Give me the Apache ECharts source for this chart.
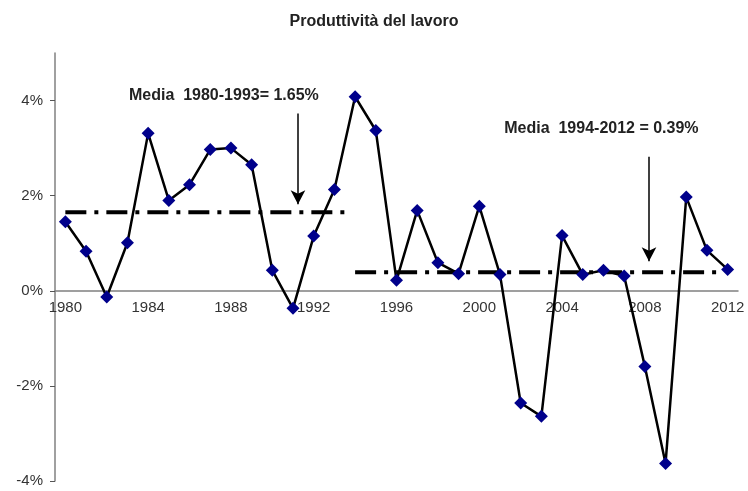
<!DOCTYPE html>
<html><head><meta charset="utf-8">
<script src="https://cdn.jsdelivr.net/npm/echarts@6/dist/echarts.min.js"></script>
<style>html,body{margin:0;padding:0;background:#fff}#c{width:748px;height:491px}</style>
</head><body><div id="c"></div>
<script>
const years = ['1980','1981','1982','1983','1984','1985','1986','1987','1988','1989','1990','1991','1992','1993','1994','1995','1996','1997','1998','1999','2000','2001','2002','2003','2004','2005','2006','2007','2008','2009','2010','2011','2012'];
const productivity = [1.45,0.83,-0.13,1.01,3.31,1.90,2.23,2.97,3.00,2.65,0.43,-0.37,1.15,2.13,4.08,3.37,0.22,1.69,0.59,0.36,1.78,0.34,-2.36,-2.64,1.16,0.34,0.43,0.31,-1.59,-3.63,1.97,0.85,0.45];
const mean1 = [[0,1.65],[13.5,1.65]];
const mean2 = [[14,0.39],[31.8,0.39]];
const yTicks = [-4,-2,0,2,4];
const yMin = -4, yMax = 5;
const label1 = 'Media  1980-1993= 1.65%';
const label2 = 'Media  1994-2012 = 0.39%';
const FONT = '"Liberation Sans", Arial, sans-serif';

const W = 748, H = 491, G = {left:55, right:10, top:53, bottom:10};
const plotH = H - G.top - G.bottom;
const zeroOffset = -plotH * (0 - yMin) / (yMax - yMin);

const chart = echarts.init(document.getElementById('c'));
const dashStyle = {color:'#000', width:4, type:[21,8,4,8]};
chart.setOption({
  animation:false,
  backgroundColor:'#fff',
  title:{text:'Produttività del lavoro', left:'center', top:9, textStyle:{fontFamily:FONT,fontSize:16,fontWeight:'bold',color:'#222'}},
  grid:Object.assign({containLabel:false,outerBoundsMode:'none'}, G),
  xAxis:[{
    type:'category', data:years, boundaryGap:true,
    axisLine:{onZero:true, lineStyle:{color:'#808080',width:1.5}},
    axisTick:{interval:0, length:4, lineStyle:{color:'#555'}},
    axisLabel:{show:false},
    splitLine:{show:false}
  },{
    type:'value', min:-0.5, max:32.5, show:false
  },{
    type:'category', data:years, boundaryGap:true, position:'bottom', offset:zeroOffset,
    axisLine:{show:false, onZero:false}, axisTick:{show:false},
    axisLabel:{interval:3, margin:10, fontFamily:FONT, fontSize:15, color:'#333'},
    splitLine:{show:false}
  }],
  yAxis:{
    type:'value', min:yMin, max:yMax, interval:2,
    axisLine:{show:true, onZero:false, lineStyle:{color:'#808080',width:1.5}},
    axisTick:{show:true, length:5, lineStyle:{color:'#555'}},
    axisLabel:{showMaxLabel:false, margin:12, fontFamily:FONT, fontSize:15, color:'#333',
      formatter:v=> yTicks.includes(v) ? v+'%' : ''},
    splitLine:{show:false}
  },
  series:[
    {type:'line', xAxisIndex:1, data:mean1, symbol:'none', lineStyle:dashStyle, z:1},
    {type:'line', xAxisIndex:1, data:mean2, symbol:'none', lineStyle:dashStyle, z:1,
      markLine:{silent:true, symbol:['none','arrow'], symbolSize:[11,14], animation:false,
        lineStyle:{color:'#000', width:1.5, type:'solid'}, label:{show:false},
        data:[
          [{coord:[11.24,3.73]},{coord:[11.24,1.82]}],
          [{coord:[28.2,2.82]},{coord:[28.2,0.62]}]
        ]},
      markPoint:{silent:true, symbol:'rect', symbolSize:1, itemStyle:{color:'rgba(0,0,0,0)'},
        label:{show:true, fontFamily:FONT, fontSize:16, fontWeight:'bold', color:'#222'},
        data:[
          {coord:[7.66,4.1], value:label1, label:{formatter:label1}},
          {coord:[25.9,3.41], value:label2, label:{formatter:label2}}
        ]}
    },
    {type:'line', data:productivity, symbol:'diamond', symbolSize:13,
      lineStyle:{color:'#000', width:2.5}, itemStyle:{color:'#00008B'}, z:3}
  ]
});
</script></body></html>
